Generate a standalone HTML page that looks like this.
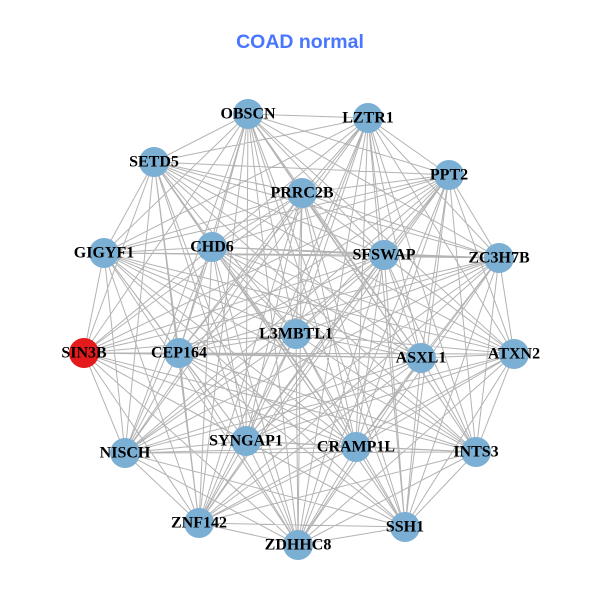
<!DOCTYPE html>
<html><head><meta charset="utf-8"><style>
html,body{margin:0;padding:0;background:#fff;}
svg{display:block;}
.l{font-family:"Liberation Serif",serif;font-weight:bold;font-size:16px;fill:#000;text-anchor:middle;dominant-baseline:central;}
</style></head><body>
<svg width="600" height="600" viewBox="0 0 600 600" xmlns="http://www.w3.org/2000/svg">
<rect width="600" height="600" fill="#fff"/>
<text x="300" y="48" font-family="Liberation Sans, sans-serif" font-weight="bold" font-size="19.5" fill="#4876FF" text-anchor="middle">COAD normal</text>
<path fill="none" stroke="#b3b3b3" stroke-width="1" d="
M248 114L368 118M248 114L154 162M248 114L449 175M248 114L302 193M248 114L104 253M248 114L212 247M248 114L384 255M248 114L499 258M248 114L296 334M248 114L84 353M248 114L179 353M248 114L421 358M248 114L514 354M248 114L125 453M248 114L246 441M248 114L356 447M248 114L476 452M248 114L199 523M248 114L298 545M248 114L405 527
M368 118L154 162M368 118L449 175M368 118L302 193M368 118L104 253M368 118L212 247M368 118L384 255M368 118L499 258M368 118L296 334M368 118L84 353M368 118L179 353M368 118L421 358M368 118L514 354M368 118L125 453M368 118L246 441M368 118L356 447M368 118L476 452M368 118L199 523M368 118L298 545M368 118L405 527
M154 162L449 175M154 162L302 193M154 162L104 253M154 162L212 247M154 162L384 255M154 162L499 258M154 162L296 334M154 162L84 353M154 162L179 353M154 162L421 358M154 162L514 354M154 162L125 453M154 162L246 441M154 162L356 447M154 162L476 452M154 162L199 523M154 162L298 545M154 162L405 527
M449 175L302 193M449 175L104 253M449 175L212 247M449 175L384 255M449 175L499 258M449 175L296 334M449 175L84 353M449 175L179 353M449 175L421 358M449 175L514 354M449 175L125 453M449 175L246 441M449 175L356 447M449 175L476 452M449 175L199 523M449 175L298 545M449 175L405 527
M302 193L104 253M302 193L212 247M302 193L384 255M302 193L499 258M302 193L296 334M302 193L84 353M302 193L179 353M302 193L421 358M302 193L514 354M302 193L125 453M302 193L246 441M302 193L356 447M302 193L476 452M302 193L199 523M302 193L298 545M302 193L405 527
M104 253L212 247M104 253L384 255M104 253L499 258M104 253L296 334M104 253L84 353M104 253L179 353M104 253L421 358M104 253L514 354M104 253L125 453M104 253L246 441M104 253L356 447M104 253L476 452M104 253L199 523M104 253L298 545M104 253L405 527
M212 247L384 255M212 247L499 258M212 247L296 334M212 247L84 353M212 247L179 353M212 247L421 358M212 247L514 354M212 247L125 453M212 247L246 441M212 247L356 447M212 247L476 452M212 247L199 523M212 247L298 545M212 247L405 527
M384 255L499 258M384 255L296 334M384 255L84 353M384 255L179 353M384 255L421 358M384 255L514 354M384 255L125 453M384 255L246 441M384 255L356 447M384 255L476 452M384 255L199 523M384 255L298 545M384 255L405 527
M499 258L296 334M499 258L84 353M499 258L179 353M499 258L421 358M499 258L514 354M499 258L125 453M499 258L246 441M499 258L356 447M499 258L476 452M499 258L199 523M499 258L298 545M499 258L405 527
M296 334L84 353M296 334L179 353M296 334L421 358M296 334L514 354M296 334L125 453M296 334L246 441M296 334L356 447M296 334L476 452M296 334L199 523M296 334L298 545M296 334L405 527
M84 353L179 353M84 353L421 358M84 353L514 354M84 353L125 453M84 353L246 441M84 353L356 447M84 353L476 452M84 353L199 523M84 353L298 545M84 353L405 527
M179 353L421 358M179 353L514 354M179 353L125 453M179 353L246 441M179 353L356 447M179 353L476 452M179 353L199 523M179 353L298 545M179 353L405 527
M421 358L514 354M421 358L125 453M421 358L246 441M421 358L356 447M421 358L476 452M421 358L199 523M421 358L298 545M421 358L405 527
M514 354L125 453M514 354L246 441M514 354L356 447M514 354L476 452M514 354L199 523M514 354L298 545M514 354L405 527
M125 453L246 441M125 453L356 447M125 453L476 452M125 453L199 523M125 453L298 545M125 453L405 527
M246 441L356 447M246 441L476 452M246 441L199 523M246 441L298 545M246 441L405 527
M356 447L476 452M356 447L199 523M356 447L298 545M356 447L405 527
M476 452L199 523M476 452L298 545M476 452L405 527
M199 523L298 545M199 523L405 527
M298 545L405 527"/>
<g fill="#7bafd4">
<circle cx="248" cy="114" r="15"/>
<circle cx="368" cy="118" r="15"/>
<circle cx="154" cy="162" r="15"/>
<circle cx="449" cy="175" r="15"/>
<circle cx="302" cy="193" r="15"/>
<circle cx="104" cy="253" r="15"/>
<circle cx="212" cy="247" r="15"/>
<circle cx="384" cy="255" r="15"/>
<circle cx="499" cy="258" r="15"/>
<circle cx="296" cy="334" r="15"/>
<circle cx="179" cy="353" r="15"/>
<circle cx="421" cy="358" r="15"/>
<circle cx="514" cy="354" r="15"/>
<circle cx="125" cy="453" r="15"/>
<circle cx="246" cy="441" r="15"/>
<circle cx="356" cy="447" r="15"/>
<circle cx="476" cy="452" r="15"/>
<circle cx="199" cy="523" r="15"/>
<circle cx="298" cy="545" r="15"/>
<circle cx="405" cy="527" r="15"/>
</g>
<circle cx="84" cy="353" r="15" fill="#e41a1c"/>
<g class="l">
<text class="l" x="248" y="114">OBSCN</text>
<text class="l" x="368" y="118">LZTR1</text>
<text class="l" x="154" y="162">SETD5</text>
<text class="l" x="449" y="175">PPT2</text>
<text class="l" x="302" y="193">PRRC2B</text>
<text class="l" x="104" y="253">GIGYF1</text>
<text class="l" x="212" y="247">CHD6</text>
<text class="l" x="384" y="255">SFSWAP</text>
<text class="l" x="499" y="258">ZC3H7B</text>
<text class="l" x="296" y="334">L3MBTL1</text>
<text class="l" x="84" y="353">SIN3B</text>
<text class="l" x="179" y="353">CEP164</text>
<text class="l" x="421" y="358">ASXL1</text>
<text class="l" x="514" y="354">ATXN2</text>
<text class="l" x="125" y="453">NISCH</text>
<text class="l" x="246" y="441">SYNGAP1</text>
<text class="l" x="356" y="447">CRAMP1L</text>
<text class="l" x="476" y="452">INTS3</text>
<text class="l" x="199" y="523">ZNF142</text>
<text class="l" x="298" y="545">ZDHHC8</text>
<text class="l" x="405" y="527">SSH1</text>
</g>
</svg>
</body></html>
